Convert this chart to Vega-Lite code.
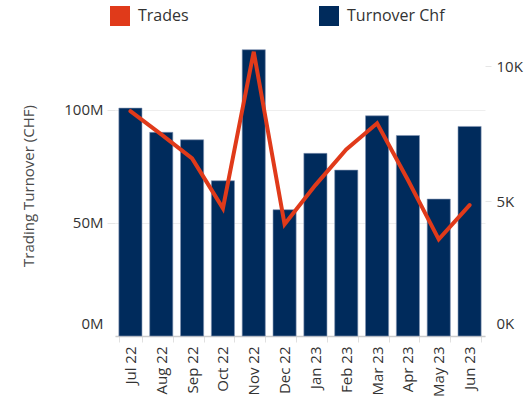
{
  "$schema": "https://vega.github.io/schema/vega-lite/v6.json",
  "autosize": {"type": "none"},
  "width": 370,
  "height": 301,
  "padding": {"left": 115, "top": 35, "right": 41, "bottom": 67},
  "config": {
    "font": "Open Sans",
    "view": {"stroke": null},
    "axis": {"labelFont": "Open Sans", "titleFont": "Open Sans"}
  },
  "data": {
    "values": [
      {"month": "Jul 22", "turnover": 100700000, "trades": 8330},
      {"month": "Aug 22", "turnover": 90000000, "trades": 7470},
      {"month": "Sep 22", "turnover": 86700000, "trades": 6580},
      {"month": "Oct 22", "turnover": 68600000, "trades": 4730},
      {"month": "Nov 22", "turnover": 126500000, "trades": 10530},
      {"month": "Dec 22", "turnover": 55800000, "trades": 4140},
      {"month": "Jan 23", "turnover": 80700000, "trades": 5590},
      {"month": "Feb 23", "turnover": 73300000, "trades": 6910},
      {"month": "Mar 23", "turnover": 97300000, "trades": 7880},
      {"month": "Apr 23", "turnover": 88600000, "trades": 5780},
      {"month": "May 23", "turnover": 60500000, "trades": 3580},
      {"month": "Jun 23", "turnover": 92600000, "trades": 4850}
    ]
  },
  "encoding": {
    "x": {
      "field": "month",
      "type": "nominal",
      "sort": null,
      "scale": {"paddingInner": 0.25, "paddingOuter": 0.125},
      "axis": {
        "title": null,
        "labelAngle": -90,
        "labelFontSize": 15,
        "labelColor": "#333",
        "labelPadding": 4,
        "tickSize": 6,
        "tickColor": "#e0e0e0",
        "tickBand": "extent",
        "domainColor": "#cccccc",
        "domainWidth": 1.5,
        "grid": false
      }
    }
  },
  "layer": [
    {
      "mark": {"type": "bar", "stroke": "#8396b3", "strokeWidth": 0.6},
      "encoding": {
        "y": {
          "field": "turnover",
          "type": "quantitative",
          "scale": {"domain": [0, 133000000], "nice": false},
          "axis": {
            "orient": "left",
            "title": "Trading Turnover (CHF)",
            "titleFontSize": 15,
            "titleFontWeight": "normal",
            "titleColor": "#4a4a4a",
            "titlePadding": 27,
            "values": [0, 50000000, 100000000],
            "labelExpr": "datum.value / 1000000 + 'M'",
            "labelFontSize": 15,
            "labelColor": "#333",
            "labelPadding": 4,
            "labelBaseline": {"condition": {"test": "datum.value == 0", "value": "bottom"}, "value": "middle"},
            "labelOffset": {"condition": {"test": "datum.value == 0", "value": -5}, "value": 0},
            "tickSize": 8,
            "tickColor": {"condition": {"test": "datum.value == 0", "value": "transparent"}, "value": "#e6e6e6"},
            "grid": true,
            "gridColor": "#eeeeee",
            "domain": false
          }
        },
        "color": {
          "datum": "Turnover Chf",
          "type": "nominal",
          "scale": {"domain": ["Trades", "Turnover Chf"], "range": ["#E03A1A", "#002B5C"]},
          "legend": {
            "title": null,
            "orient": "none",
            "legendX": -5,
            "legendY": -29,
            "direction": "horizontal",
            "symbolType": "square",
            "symbolSize": 400,
            "symbolStrokeWidth": 0,
            "labelFontSize": 16,
            "labelColor": "#333",
            "labelOffset": 8,
            "columnPadding": 130,
            "encode": {
              "symbols": {"update": {"fill": {"scale": "color", "field": "value"}, "opacity": {"value": 1}}}
            }
          }
        }
      }
    },
    {
      "mark": {"type": "line", "strokeWidth": 4, "strokeJoin": "miter", "strokeCap": "round"},
      "encoding": {
        "y": {
          "field": "trades",
          "type": "quantitative",
          "scale": {"domain": [0, 11150], "nice": false},
          "axis": {
            "orient": "right",
            "title": null,
            "values": [0, 5000, 10000],
            "labelExpr": "datum.value / 1000 + 'K'",
            "labelFontSize": 15,
            "labelColor": "#333",
            "labelPadding": 5,
            "labelBaseline": {"condition": {"test": "datum.value == 0", "value": "bottom"}, "value": "middle"},
            "labelOffset": {"condition": {"test": "datum.value == 0", "value": -5}, "value": 0},
            "tickSize": 6,
            "tickColor": {"condition": {"test": "datum.value == 0", "value": "transparent"}, "value": "#e6e6e6"},
            "grid": false,
            "domain": false
          }
        },
        "color": {"datum": "Trades", "type": "nominal"}
      }
    }
  ],
  "resolve": {"scale": {"y": "independent"}}
}
